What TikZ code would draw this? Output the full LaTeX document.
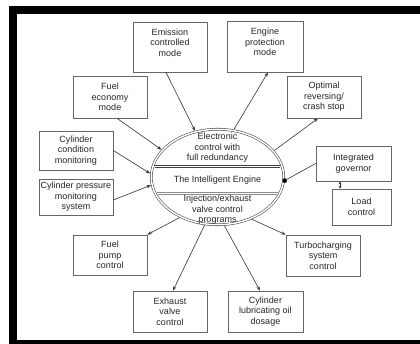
\documentclass[tikz,border=0pt]{standalone}
\usepackage{fontspec}
\setmainfont{Liberation Sans}
\usetikzlibrary{arrows.meta,calc,shapes.geometric}
\begin{document}
\begin{tikzpicture}[x=1pt,y=-1pt,
  box/.style={draw=black!60,line width=0.7pt,fill=white,inner sep=0pt,align=center,
    text=black!85,font=\fontsize{9}{10.5}\selectfont},
  lbl/.style={inner sep=0pt,align=center,text=black!85,font=\fontsize{9}{10.5}\selectfont},
  conn/.style={draw=black!80,line width=0.6pt,-{Stealth[length=4.5pt,width=3.2pt]}},
  dotconn/.style={draw=black!80,line width=0.6pt,-{Circle[length=4.8pt,fill=black]},shorten >=-2.6pt},
  twoway/.style={draw=black!80,line width=0.6pt,{Stealth[length=3pt,width=3pt]}-{Stealth[length=3pt,width=3pt]}},
  bandline/.style={draw=black!75,line width=0.6pt},
  greyline/.style={draw=black!45,line width=0.9pt},
]
\useasboundingbox (0,0) rectangle (420,344);
% frame
\fill[black] (9,6) rectangle (420,344);
\fill[white] (17,14) rectangle (420,340);

% central ellipse
\node[draw=black!75,line width=0.55pt,double,double distance=1.5pt,ellipse,
  minimum width=132.5pt,minimum height=95.5pt,inner sep=0pt,outer sep=1.25pt] (eng) at (217.5,177) {};
\coordinate (l1a) at (154.4,165);
\coordinate (l1b) at (280.6,165);
\coordinate (l2a) at (154.8,167.3);
\coordinate (l2b) at (280.2,167.3);
\coordinate (l3a) at (157.2,192);
\coordinate (l3b) at (277.8,192);
\coordinate (l4a) at (157.8,194.4);
\coordinate (l4b) at (277.2,194.4);
\path[bandline] (l1a) -- (l1b);
\path[bandline] (l2a) -- (l2b);
\path[greyline] (l3a) -- (l3b);
\path[greyline] (l4a) -- (l4b);
\node[lbl] (etop) at (217.5,148) {Electronic\\control with\\full redundancy};
\node[lbl] (emid) at (217.5,180) {The Intelligent Engine};
\node[lbl] (ebot) at (217.5,210) {Injection/exhaust\\valve control\\programs};

% boxes
\node[box,minimum width=74pt,minimum height=50pt] (emis) at (170,47) {Emission\\controlled\\mode\\[-1pt]~};
\node[box,minimum width=76pt,minimum height=51pt] (engp) at (265,46.5) {Engine\\protection\\mode\\[-1pt]~};
\node[box,minimum width=74pt,minimum height=42pt] (fuel) at (110,97) {Fuel\\economy\\mode};
\node[box,minimum width=74pt,minimum height=42pt] (optr) at (324,97) {Optimal\\reversing/\\crash stop};
\node[box,minimum width=74pt,minimum height=39pt] (ccm) at (76,150.5) {Cylinder\\condition\\monitoring};
\node[box,minimum width=74pt,minimum height=36pt] (cpm) at (76,197) {Cylinder pressure\\monitoring\\system};
\node[box,minimum width=75pt,minimum height=35pt] (ig) at (353.5,163.5) {Integrated\\governor};
\node[box,minimum width=59pt,minimum height=36pt] (lc) at (361.5,207) {Load\\control};
\node[box,minimum width=74pt,minimum height=40pt] (fpc) at (110,255) {Fuel\\pump\\control};
\node[box,minimum width=74pt,minimum height=41pt] (tsc) at (323,255.5) {Turbocharging\\system\\control};
\node[box,minimum width=74pt,minimum height=41pt] (evc) at (170,311.5) {Exhaust\\valve\\control};
\node[box,minimum width=75pt,minimum height=41pt] (clo) at (265.5,311.5) {Cylinder\\lubricating oil\\dosage};

% connectors
\draw[conn] ([xshift=-4pt]emis.south) -- (eng.116);
\draw[conn] (eng.71) -- ([xshift=3pt]engp.south);
\draw[conn] ([xshift=7pt]fuel.south) -- (eng.154);
\draw[conn] (eng.25) -- ([xshift=-6pt]optr.south);
\draw[conn] (ccm.east) -- (eng.177);
\draw[conn] ([yshift=-3pt]cpm.east) -- (eng.187);
\draw[dotconn] (ig.west) -- (eng.-3);
\draw[twoway] ([xshift=-13.5pt]ig.south) -- ([xshift=-21.5pt]lc.north);
\draw[conn] (eng.227) -- (fpc.north east);
\draw[conn] (eng.-51) -- (tsc.north west);
\draw[conn] (eng.-105) -- ([xshift=3pt]evc.north);
\draw[conn] (eng.-82) -- ([xshift=-5.5pt]clo.north);
\end{tikzpicture}
\end{document}
